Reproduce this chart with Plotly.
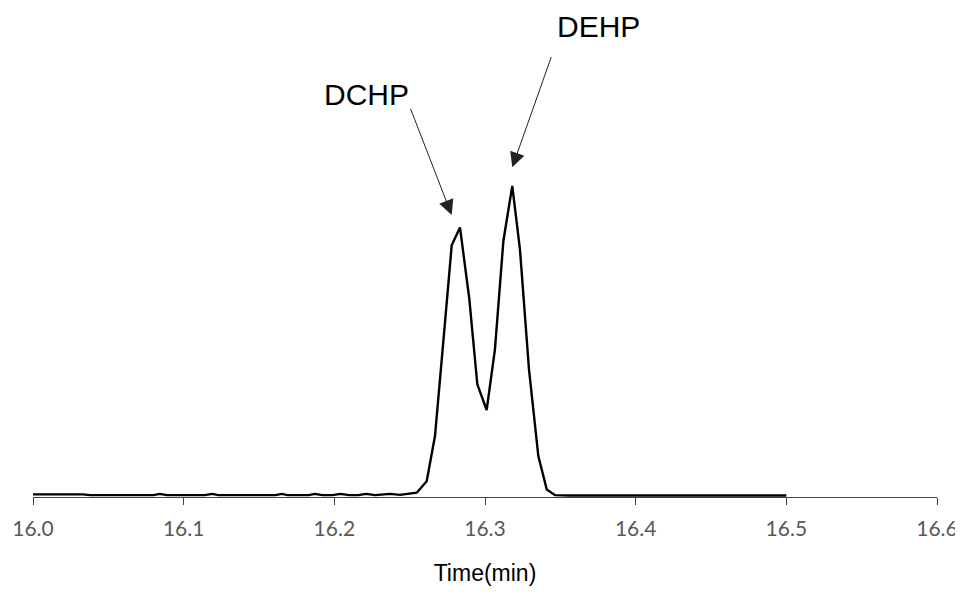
import plotly.graph_objects as go

# Retention time (min) and relative intensity (%, DEHP peak = 100)
time_min = [
    16.000, 16.033, 16.038, 16.080, 16.084, 16.089, 16.114, 16.119, 16.123,
    16.161, 16.165, 16.169, 16.183, 16.187, 16.192, 16.199, 16.204, 16.210,
    16.216, 16.221, 16.227, 16.237, 16.2436, 16.2547, 16.2613, 16.2668,
    16.2723, 16.2779, 16.2834, 16.2896, 16.2949, 16.3011, 16.3066, 16.3122,
    16.3181, 16.3232, 16.3292, 16.3354, 16.3410, 16.3465, 16.356, 16.500,
]
intensity = [
    0.35, 0.35, 0.1, 0.1, 0.5, 0.1, 0.1, 0.5, 0.1,
    0.1, 0.5, 0.1, 0.1, 0.5, 0.1, 0.1, 0.5, 0.1,
    0.1, 0.5, 0.1, 0.5, 0.2, 0.9, 4.6, 19.2,
    49.5, 80.8, 86.6, 63.4, 35.9, 27.6, 47.2, 82.2,
    100.0, 79.5, 40.7, 12.7, 1.9, 0.1, 0.0, 0.0,
]
peak_names = ["DCHP", "DEHP"]
x_ticks = [16.0, 16.1, 16.2, 16.3, 16.4, 16.5, 16.6]

fig = go.Figure()
fig.add_trace(go.Scatter(
    x=time_min, y=intensity, mode="lines",
    line=dict(color="black", width=2.4),
    showlegend=False, hoverinfo="skip",
))

# locate the two peak apexes from the data
split = 16.30
i1 = max((i for i, t in enumerate(time_min) if t < split), key=lambda i: intensity[i])
i2 = max((i for i, t in enumerate(time_min) if t >= split), key=lambda i: intensity[i])

# arrows (tip near apex, tail toward label)
arrows = [
    dict(x=time_min[i1 - 1], y=intensity[i1] + 4, ax=16.2502, ay=125.4),
    dict(x=time_min[i2], y=intensity[i2] + 6, ax=16.3443, ay=142.1),
]
labels = [
    dict(x=16.2214, y=129.5),
    dict(x=16.375, y=151.6),
]
for name, a, l in zip(peak_names, arrows, labels):
    fig.add_annotation(
        x=a["x"], y=a["y"], ax=a["ax"], ay=a["ay"], axref="x", ayref="y",
        xref="x", yref="y", text="", showarrow=True,
        arrowhead=2, arrowsize=3, arrowwidth=1, arrowcolor="#222222", standoff=0,
    )
    fig.add_annotation(
        x=l["x"], y=l["y"], xref="x", yref="y", text=name, showarrow=False,
        font=dict(family="Liberation Sans, Arial, sans-serif", size=30, color="black"),
    )

fig.update_layout(
    width=963, height=595,
    margin=dict(l=25, r=34, t=3, b=106),
    paper_bgcolor="white", plot_bgcolor="white",
    xaxis=dict(
        range=[16.0, 16.6], tickvals=x_ticks, ticktext=[f"{v:.1f}" for v in x_ticks],
        showgrid=False, zeroline=False, showline=True, linecolor="#404040", linewidth=1,
        ticks="outside", ticklen=7, tickcolor="#404040", tickwidth=1,
        ticklabelstandoff=6,
        tickfont=dict(family="Lato, Open Sans, sans-serif", size=21, color="#595959"),
        title=dict(text="Time(min)", standoff=25,
                   font=dict(family="Liberation Sans, Arial, sans-serif", size=23, color="black")),
        automargin=False,
    ),
    yaxis=dict(range=[-0.5, 156.5], visible=False, showgrid=False, zeroline=False),
)

fig.write_html("out.html")
